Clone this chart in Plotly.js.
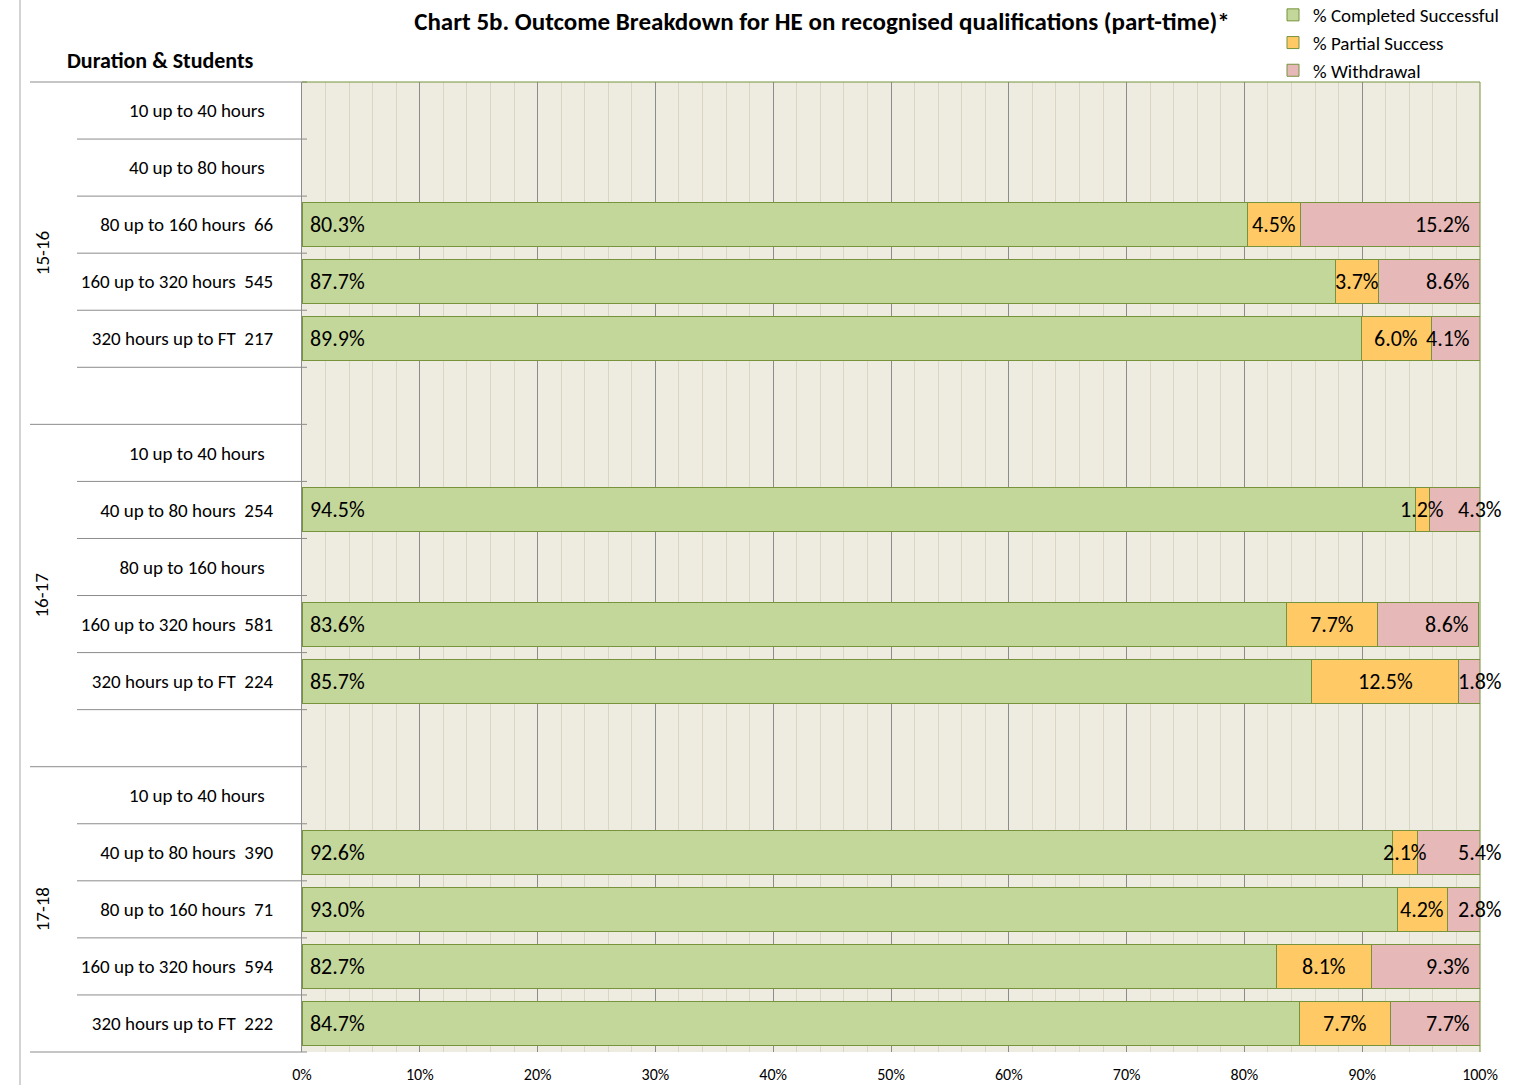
<!DOCTYPE html>
<html>
<head>
<meta charset="utf-8">
<script src="https://cdn.plot.ly/plotly-3.0.1.min.js"></script>
<style>html,body{margin:0;padding:0;background:#fff;}#chart{width:1531px;height:1085px;}</style>
</head>
<body>
<div id="chart"></div>
<script>
// ---------- DATA ----------
const years = ['15-16', '16-17', '17-18'];
const durations = ['10 up to 40 hours', '40 up to 80 hours', '80 up to 160 hours', '160 up to 320 hours', '320 hours up to FT'];

const students1516 = [null, null, 66, 545, 217];
const completed1516 = [null, null, 0.803, 0.877, 0.899];
const partial1516 = [null, null, 0.045, 0.037, 0.060];
const withdrawal1516 = [null, null, 0.152, 0.086, 0.041];

const students1617 = [null, 254, null, 581, 224];
const completed1617 = [null, 0.945, null, 0.836, 0.857];
const partial1617 = [null, 0.012, null, 0.077, 0.125];
const withdrawal1617 = [null, 0.043, null, 0.086, 0.018];

const students1718 = [null, 390, 71, 594, 222];
const completed1718 = [null, 0.926, 0.930, 0.827, 0.847];
const partial1718 = [null, 0.021, 0.042, 0.081, 0.077];
const withdrawal1718 = [null, 0.054, 0.028, 0.093, 0.077];

const seriesNames = ['% Completed Successful', '% Partial Success', '% Withdrawal'];
const xTickVals = [0, 0.1, 0.2, 0.3, 0.4, 0.5, 0.6, 0.7, 0.8, 0.9, 1.0];

// ---------- BUILD ROWS ----------
const perYear = [
  {s: students1516, c: completed1516, p: partial1516, w: withdrawal1516},
  {s: students1617, c: completed1617, p: partial1617, w: withdrawal1617},
  {s: students1718, c: completed1718, p: partial1718, w: withdrawal1718}
];
const NB = '\u00a0';
const ids = [], labels = [], comp = [], part = [], withd = [];
const groupSpans = [];
years.forEach((yr, yi) => {
  const start = ids.length;
  const d = perYear[yi];
  durations.forEach((du, di) => {
    ids.push(yr + '|' + du);
    labels.push(du + NB + NB + (d.s[di] != null ? d.s[di] : ''));
    comp.push(d.c[di]); part.push(d.p[di]); withd.push(d.w[di]);
  });
  if (yi < years.length - 1) {
    ids.push(yr + '|blank'); labels.push(''); comp.push(null); part.push(null); withd.push(null);
  }
  groupSpans.push([start, ids.length]);
});
const N = ids.length;

// ---------- GEOMETRY ----------
const FW = 1531, FH = 1085;
const M = {l: 302, r: 51, t: 82, b: 33, autoexpand: false};
const PW = FW - M.l - M.r, PH = FH - M.t - M.b;
const px2x = p => (p - M.l) / PW;
const py2y = p => 1 - (p - M.t) / PH;

const FONT = 'Calibri, Carlito, Lato, "Open Sans", sans-serif';
const olive = '#77933C';
const gray = '#8c8c8c';
const LBL = 22;

const barLine = {color: olive, width: 1};
const traces = [
  {type: 'bar', orientation: 'h', name: seriesNames[0], y: ids, x: comp,
   marker: {color: '#C4D79B', line: barLine},
   texttemplate: NB + '%{x:.1%}', textposition: 'inside', insidetextanchor: 'start', textangle: 0,
   constraintext: 'none', textfont: {family: FONT, size: LBL, color: '#000'}, hoverinfo: 'skip'},
  {type: 'bar', orientation: 'h', name: seriesNames[1], y: ids, x: part,
   marker: {color: '#FFCA66', line: barLine},
   textposition: 'none', hoverinfo: 'skip'},
  {type: 'bar', orientation: 'h', name: seriesNames[2], y: ids, x: withd,
   marker: {color: '#E6B8B7', line: barLine},
   textposition: 'none', hoverinfo: 'skip'}
];

const annotations = [];
// partial-success labels centred on their segment (data coords)
ids.forEach((id, i) => {
  if (part[i] == null) return;
  annotations.push({
    x: comp[i] + part[i] / 2, y: id, xref: 'x', yref: 'y',
    text: (part[i] * 100).toFixed(1) + '%', showarrow: false, xanchor: 'center',
    font: {family: FONT, size: LBL, color: '#000'}
  });
});
// withdrawal labels anchored at the bar end (data coords)
ids.forEach((id, i) => {
  if (withd[i] == null) return;
  const end = Math.min(1, comp[i] + part[i] + withd[i]);
  const centered = withd[i] < 0.03 || part[i] < 0.03;
  annotations.push({
    x: end, y: id, xref: 'x', yref: 'y',
    text: (withd[i] * 100).toFixed(1) + '%', showarrow: false,
    xanchor: centered ? 'center' : 'right', xshift: centered ? 0 : -8,
    font: {family: FONT, size: LBL, color: '#000'}
  });
});

// group labels
groupSpans.forEach((sp, gi) => {
  annotations.push({
    xref: 'paper', yref: 'paper', x: px2x(42), y: 1 - (sp[0] + sp[1]) / 2 / N,
    text: years[gi], textangle: -90, showarrow: false,
    xanchor: 'center', yanchor: 'middle',
    font: {family: FONT, size: 19, color: '#000'}
  });
});
annotations.push({
  xref: 'paper', yref: 'paper', x: px2x(160), y: py2y(60),
  text: '<b>Duration &amp; Students</b>', showarrow: false,
  xanchor: 'center', yanchor: 'middle', font: {family: FONT, size: 22, color: '#000'}
});

// separator lines
const shapes = [];
const groupBounds = new Set([0]);
groupSpans.forEach(sp => groupBounds.add(sp[1]));
for (let k = 0; k <= N; k++) {
  const yy = 1 - k / N;
  shapes.push({type: 'line', xref: 'paper', yref: 'paper',
    x0: px2x(groupBounds.has(k) ? 30 : 77), x1: px2x(307), y0: yy, y1: yy,
    line: {color: gray, width: 1}, layer: 'above'});
}
// plot border top/right in olive
shapes.push({type: 'line', xref: 'paper', yref: 'paper', x0: 0, x1: 1, y0: 1, y1: 1, line: {color: olive, width: 1}});
shapes.push({type: 'line', xref: 'paper', yref: 'paper', x0: 1, x1: 1, y0: 0, y1: 1, line: {color: olive, width: 1}});
// outer left border
shapes.push({type: 'line', xref: 'paper', yref: 'paper', x0: px2x(20), x1: px2x(20), y0: py2y(FH), y1: py2y(0), line: {color: '#a6a6a6', width: 1}});

const layout = {
  width: FW, height: FH,
  margin: M,
  paper_bgcolor: '#ffffff', plot_bgcolor: '#EEECE1',
  font: {family: FONT, size: 15, color: '#000'},
  barmode: 'stack', bargap: 0.23,
  showlegend: true,
  legend: {x: px2x(1273), xanchor: 'left', y: py2y(-4), yanchor: 'top',
    traceorder: 'normal', font: {family: FONT, size: 19, color: '#000'},
    bgcolor: 'rgba(0,0,0,0)', itemwidth: 30, tracegroupgap: 0},
  title: {text: '<b>Chart 5b. Outcome Breakdown for HE on recognised qualifications (part-time)*</b>',
    xref: 'paper', x: px2x(822), xanchor: 'center',
    yref: 'container', y: 1 - 21 / FH, yanchor: 'middle',
    font: {family: FONT, size: 25, color: '#000'}},
  xaxis: {range: [0, 1], tickvals: xTickVals, tickformat: '.0%',
    showgrid: true, gridcolor: gray, gridwidth: 1,
    minor: {dtick: 0.02, showgrid: true, gridcolor: '#DAD6C4', gridwidth: 1},
    zeroline: false, showline: false, ticks: '', ticklabelstandoff: 11,
    tickfont: {family: FONT, size: 16, color: '#000'}, fixedrange: true},
  yaxis: {type: 'category', categoryorder: 'array', categoryarray: ids,
    range: [N - 0.5, -0.5], tickvals: ids, ticktext: labels,
    showgrid: false, zeroline: false, showline: true, linecolor: gray, linewidth: 1,
    ticks: '', ticklabelstandoff: 24,
    tickfont: {family: FONT, size: 19, color: '#000'}, fixedrange: true},
  annotations: annotations,
  shapes: shapes
};

Plotly.newPlot('chart', traces, layout, {displayModeBar: false, staticPlot: true});
</script>
</body>
</html>
